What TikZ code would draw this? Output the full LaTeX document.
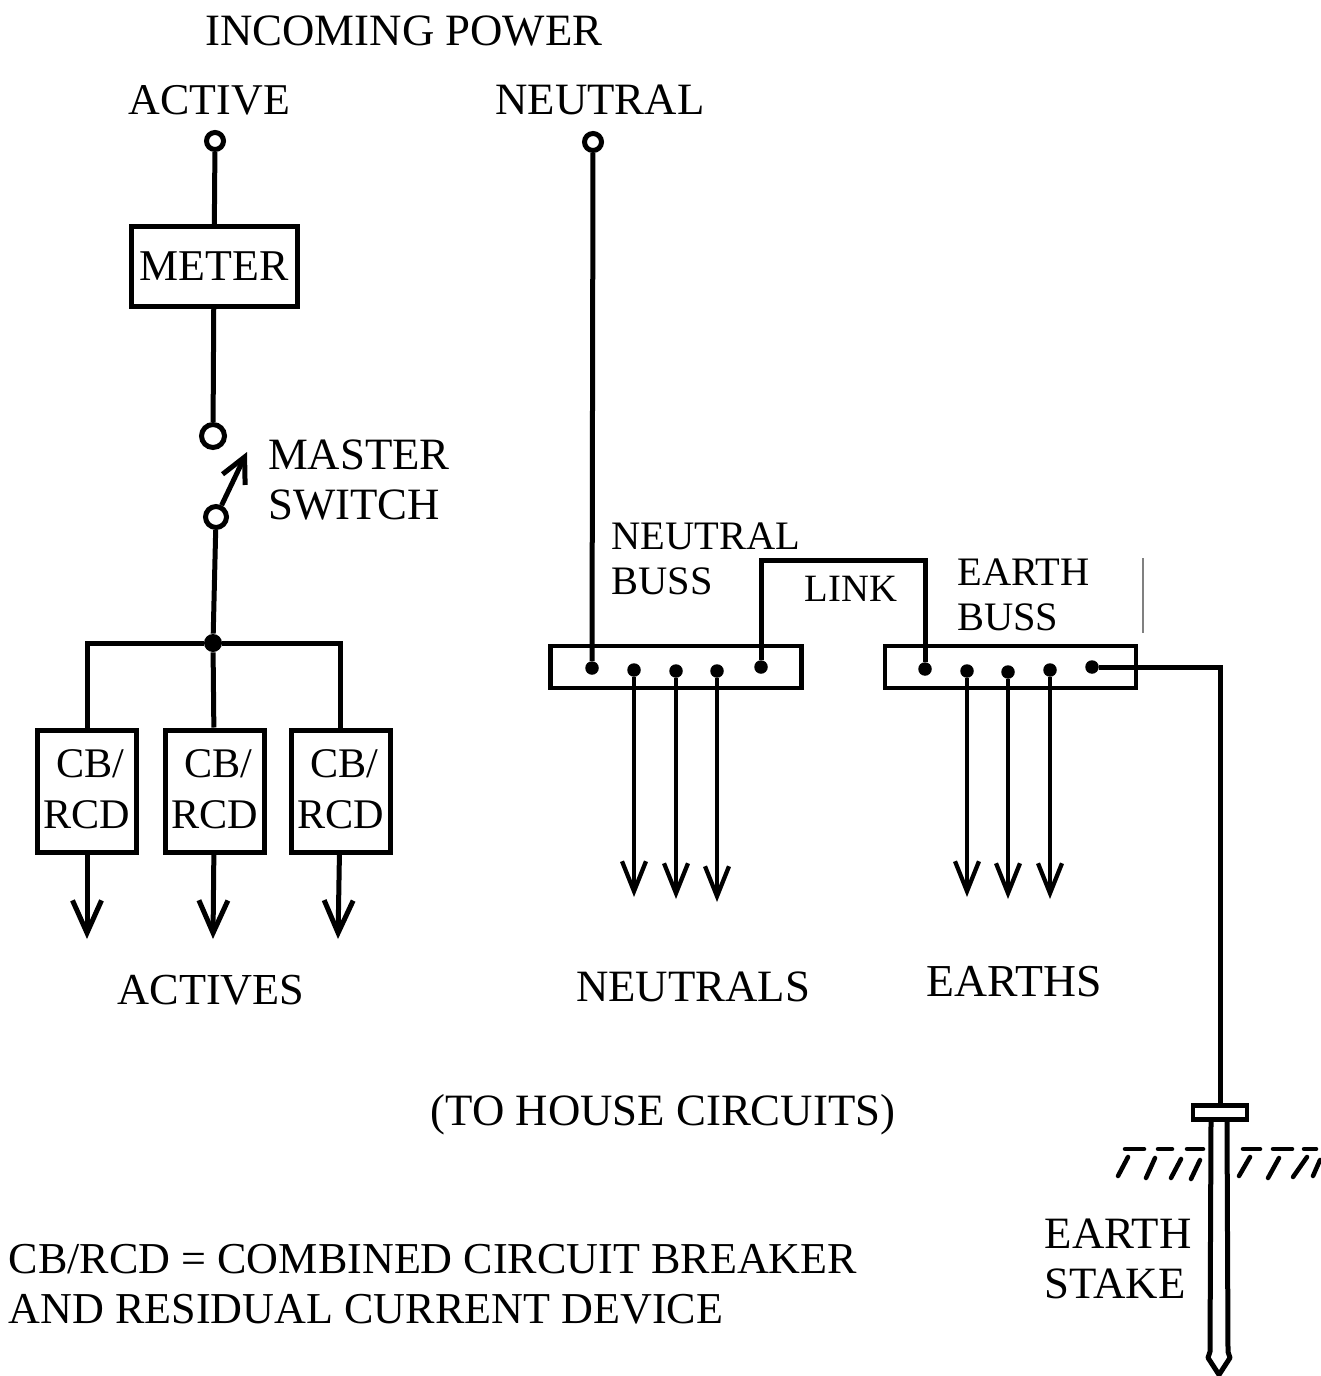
\documentclass[tikz,border=0pt]{standalone}
\usepackage{fontspec}
\setmainfont{Liberation Serif}
\usetikzlibrary{arrows.meta, positioning}
\tikzstyle{wire} = [line width=.1cm]
\tikzstyle{arrow} = [line width=.1cm,-{Straight Barb[length=.65cm,width=.58cm]}]
\tikzstyle{thinarrow} = [line width=.085cm,-{Straight Barb[length=.6cm,width=.48cm]}]
\tikzstyle{biglabel} = [inner sep=0pt, align=left, font=\fontsize{25.5}{28.4}\selectfont]
\tikzstyle{smalllabel} = [inner sep=0pt, align=left, font=\fontsize{23}{25.5}\selectfont]
\tikzstyle{terminal} = [circle, draw=black, line width=.1cm, minimum size=.34cm, inner sep=0pt]
\tikzstyle{switchpoint} = [circle, draw=black, line width=.1cm, minimum size=.46cm, inner sep=0pt]
\tikzstyle{contact} = [circle, fill=black, minimum size=.27cm, inner sep=0pt]
\tikzstyle{buss} = [rectangle, draw=black, line width=.09cm, minimum width=5.02cm, minimum height=.84cm]
\tikzstyle{cbbox} = [rectangle, draw=black, line width=.1cm, minimum width=1.98cm, minimum height=2.44cm, inner sep=0pt, align=center, text depth=.08cm, font=\fontsize{24}{28.9}\selectfont]

\begin{document}
\begin{tikzpicture}[node distance=1cm]
\useasboundingbox (0,0) rectangle (26.4,-27.52);
% Placement of nodes
\node (power) [biglabel] at (8.08,-.62) {INCOMING POWER};
\node (active) [biglabel, below of=power, xshift=-3.89cm, yshift=-.38cm, font=\fontsize{25}{28.4}\selectfont] {ACTIVE};
\node (neutral) [biglabel, right of=active, xshift=6.81cm] {NEUTRAL};
\node (activeTerm) [terminal, below of=active, xshift=.11cm, yshift=.18cm] {};
\node (neutralTerm) [terminal, right of=activeTerm, xshift=6.56cm, yshift=-.02cm] {};
\node (meter) [cbbox, below of=activeTerm, xshift=-.02cm, yshift=-1.51cm, minimum width=3.32cm, minimum height=1.6cm, text depth=0pt, font=\fontsize{25}{28}\selectfont] {METER};
\node (switchTop) [switchpoint, below of=meter, xshift=-.02cm, yshift=-2.39cm] {};
\node (switchBot) [switchpoint, below of=switchTop, xshift=.06cm, yshift=-.62cm, minimum size=.42cm] {};
\coordinate (bladeTip) at ([xshift=.62cm, yshift=1.3cm]switchBot.center);
\node (master) [biglabel, right of=switchBot, xshift=1.86cm, yshift=.74cm] {MASTER\\SWITCH};
\node (junction) [contact, below of=switchBot, xshift=-.06cm, yshift=-1.52cm, minimum size=.36cm] {};

% Breakers
\node (cbMid) [cbbox, below of=junction, xshift=.03cm, yshift=-1.96cm] {\hspace*{.14cm}CB/\\RCD};
\node (cbLeft) [cbbox, left of=cbMid, xshift=-1.55cm] {\hspace*{.14cm}CB/\\RCD};
\node (cbRight) [cbbox, right of=cbMid, xshift=1.52cm] {\hspace*{.14cm}CB/\\RCD};
\coordinate (endLeft) at ([yshift=-2.96cm]cbLeft.center);
\coordinate (endMid) at ([xshift=-.03cm, yshift=-2.96cm]cbMid.center);
\coordinate (endRight) at ([xshift=-.05cm, yshift=-2.96cm]cbRight.center);
\node (actives) [biglabel, below of=cbMid, xshift=-.07cm, yshift=-2.98cm, font=\fontsize{25.2}{28.4}\selectfont] {ACTIVES};

% Busses
\node (neutralBus) [buss, below of=neutralTerm, xshift=1.66cm, yshift=-9.5cm] {};
\node (earthBus) [buss, right of=neutralBus, xshift=5.69cm] {};
\node (nFeed) [contact, left of=neutralBus, xshift=-.68cm, yshift=-.02cm] {};
\node (nOut1) [contact, right of=nFeed, xshift=-.16cm, yshift=-.04cm] {};
\node (nOut2) [contact, right of=nOut1, xshift=-.16cm, yshift=-.02cm] {};
\node (nOut3) [contact, right of=nOut2, xshift=-.18cm] {};
\node (nLink) [contact, right of=nOut3, xshift=-.12cm, yshift=.08cm] {};
\node (eLink) [contact, left of=earthBus, xshift=-.71cm, yshift=-.04cm] {};
\node (eOut1) [contact, right of=eLink, xshift=-.16cm, yshift=-.04cm] {};
\node (eOut2) [contact, right of=eOut1, xshift=-.18cm, yshift=-.02cm] {};
\node (eOut3) [contact, right of=eOut2, xshift=-.16cm, yshift=.04cm] {};
\node (eStake) [contact, right of=eOut3, xshift=-.16cm, yshift=.06cm] {};
\coordinate (nEnd1) at ([yshift=-4.54cm]nOut1.center);
\coordinate (nEnd2) at ([yshift=-4.56cm]nOut2.center);
\coordinate (nEnd3) at ([yshift=-4.62cm]nOut3.center);
\coordinate (eEnd1) at ([yshift=-4.52cm]eOut1.center);
\coordinate (eEnd2) at ([yshift=-4.54cm]eOut2.center);
\coordinate (eEnd3) at ([yshift=-4.58cm]eOut3.center);
\coordinate (linkA) at ([yshift=2.14cm]nLink.center);
\coordinate (markTop) at ([xshift=2.65cm, yshift=2.18cm]earthBus.center);
\coordinate (markBot) at ([xshift=2.65cm, yshift=.68cm]earthBus.center);
\node (neutralBussLabel) [smalllabel, above of=neutralBus, xshift=.6cm, yshift=1.17cm] {NEUTRAL\\BUSS};
\node (linkLabel) [smalllabel, above of=neutralBus, xshift=3.5cm, yshift=.56cm, font=\fontsize{22}{25.5}\selectfont] {LINK};
\node (earthBussLabel) [smalllabel, above of=earthBus, xshift=.26cm, yshift=.45cm] {EARTH\\BUSS};
\node (neutrals) [biglabel, below of=neutralBus, xshift=.34cm, yshift=-5.4cm] {NEUTRALS};
\node (earths) [biglabel, below of=earthBus, xshift=.07cm, yshift=-5.3cm, font=\fontsize{26}{28.4}\selectfont] {EARTHS};
\node (toHouse) [biglabel, below of=neutrals, xshift=-.6cm, yshift=-1.56cm] {(TO HOUSE CIRCUITS)};
\node (legend) [biglabel, below of=toHouse, xshift=-4.6cm, yshift=-2.39cm, font=\fontsize{25.1}{28.4}\selectfont] {CB/RCD = COMBINED CIRCUIT BREAKER\\AND RESIDUAL CURRENT DEVICE};

% Stake
\node (stakeHead) [rectangle, draw=black, line width=.09cm, minimum width=1.08cm, minimum height=.28cm, inner sep=0pt, below of=eStake, xshift=2.56cm, yshift=-7.91cm] {};
\node (stakeLabel) [biglabel, below of=stakeHead, xshift=-2.04cm, yshift=-1.93cm] {EARTH\\STAKE};

% Placement of edges
\draw [wire] (activeTerm) -- (meter);
\draw [wire] (meter) -- (switchTop);
\draw [arrow, -{Straight Barb[length=.5cm,width=.5cm]}] (switchBot) -- (bladeTip);
\draw [wire] (switchBot) -- (junction);
\draw [wire] (junction) -| (cbLeft);
\draw [wire] (junction) -| (cbRight);
\draw [wire] (junction) -- (cbMid);
\draw [arrow] (cbLeft) -- (endLeft);
\draw [arrow] (cbMid) -- (endMid);
\draw [arrow] (cbRight) -- (endRight);

\draw [wire] (neutralTerm) -- (nFeed);
\draw [wire] (nLink) -- (linkA) -| (eLink);
\draw [wire] (eStake) -| (stakeHead);
\draw [thinarrow] (nOut1) -- (nEnd1);
\draw [thinarrow] (nOut2) -- (nEnd2);
\draw [thinarrow] (nOut3) -- (nEnd3);
\draw [thinarrow] (eOut1) -- (eEnd1);
\draw [thinarrow] (eOut2) -- (eEnd2);
\draw [thinarrow] (eOut3) -- (eEnd3);
\draw [gray, line width=.03cm] (markTop) -- (markBot);

% stake body
\draw [wire, line join=round] ([xshift=-.18cm]stakeHead.south) -- ++(-.02,-4.6) -- ++(-.04,-.12) -- ++(.22,-.34) -- ++(.22,.34) -- ++(-.04,.12) -- ++(-.02,4.6);
% ground
\draw [line width=.09cm, line cap=round] (22.5,-22.98) -- (22.88,-22.98) (23.16,-22.98) -- (23.44,-22.98) (23.74,-22.98) -- (24.06,-22.98)
  (24.86,-22.98) -- (25.2,-22.98) (25.46,-22.98) -- (25.84,-22.98) (26.08,-22.98) -- (26.32,-22.98);
\draw [line width=.09cm, line cap=round] (22.56,-23.14) -- (22.36,-23.52) (23.1,-23.16) -- (22.92,-23.56) (23.62,-23.18) -- (23.42,-23.56) (24,-23.2) -- (23.82,-23.58)
  (25,-23.14) -- (24.78,-23.52) (25.58,-23.16) -- (25.36,-23.56) (26.14,-23.14) -- (25.86,-23.54) (26.4,-23.2) -- (26.26,-23.52);
\end{tikzpicture}
\end{document}
